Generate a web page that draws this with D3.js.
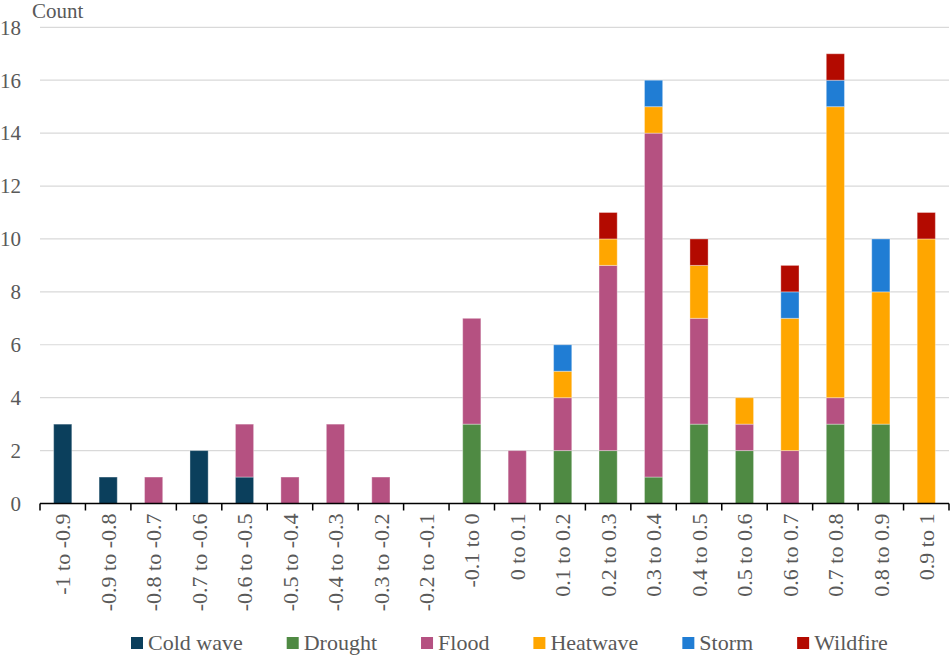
<!DOCTYPE html>
<html>
<head>
<meta charset="utf-8">
<script src="https://cdn.jsdelivr.net/npm/d3@7"></script>
<style>
  body { margin: 0; background: #fff; }
  text { font-family: "Liberation Serif", "Times New Roman", serif; fill: #595959; }
</style>
</head>
<body>
<div id="chart"></div>
<script>
const categories = ["-1 to -0.9", "-0.9 to -0.8", "-0.8 to -0.7", "-0.7 to -0.6", "-0.6 to -0.5",
  "-0.5 to -0.4", "-0.4 to -0.3", "-0.3 to -0.2", "-0.2 to -0.1", "-0.1 to 0",
  "0 to 0.1", "0.1 to 0.2", "0.2 to 0.3", "0.3 to 0.4", "0.4 to 0.5",
  "0.5 to 0.6", "0.6 to 0.7", "0.7 to 0.8", "0.8 to 0.9", "0.9 to 1"];

const seriesNames = ["Cold wave", "Drought", "Flood", "Heatwave", "Storm", "Wildfire"];
const seriesColors = ["#0b3f5c", "#4f8a43", "#b55181", "#ffa600", "#207dd4", "#b30a00"];

const coldWave = [3, 1, 0, 2, 1, 0, 0, 0, 0, 0, 0, 0, 0, 0, 0, 0, 0, 0, 0, 0];
const drought  = [0, 0, 0, 0, 0, 0, 0, 0, 0, 3, 0, 2, 2, 1, 3, 2, 0, 3, 3, 0];
const flood    = [0, 0, 1, 0, 2, 1, 3, 1, 0, 4, 2, 2, 7, 13, 4, 1, 2, 1, 0, 0];
const heatwave = [0, 0, 0, 0, 0, 0, 0, 0, 0, 0, 0, 1, 1, 1, 2, 1, 5, 11, 5, 10];
const storm    = [0, 0, 0, 0, 0, 0, 0, 0, 0, 0, 0, 1, 0, 1, 0, 0, 1, 1, 2, 0];
const wildfire = [0, 0, 0, 0, 0, 0, 0, 0, 0, 0, 0, 0, 1, 0, 1, 0, 1, 1, 0, 1];

const yTicks = [0, 2, 4, 6, 8, 10, 12, 14, 16, 18];

const seriesValues = [coldWave, drought, flood, heatwave, storm, wildfire];

const width = 950, height = 655;
const plotLeft = 40, plotRight = 949, plotTop = 27.3, plotBottom = 503.5;
const fontSize = 22;

const svg = d3.select("#chart").append("svg")
  .attr("width", width)
  .attr("height", height);

const table = categories.map((c, i) => {
  const row = { category: c };
  seriesNames.forEach((s, j) => { row[s] = seriesValues[j][i]; });
  return row;
});

const stacked = d3.stack().keys(seriesNames)(table);

const x = d3.scaleBand()
  .domain(categories)
  .range([plotLeft, plotRight])
  .paddingInner(0.6)
  .paddingOuter(0.3);

const y = d3.scaleLinear()
  .domain([0, 18])
  .range([plotBottom, plotTop]);

const color = d3.scaleOrdinal().domain(seriesNames).range(seriesColors);

// gridlines
svg.append("g")
  .selectAll("line")
  .data(yTicks.filter(d => d > 0))
  .enter()
  .append("line")
  .attr("x1", plotLeft)
  .attr("x2", plotRight)
  .attr("y1", d => y(d))
  .attr("y2", d => y(d))
  .attr("stroke", "#d9d9d9")
  .attr("stroke-width", 1.2);

// y labels
svg.append("g")
  .selectAll("text")
  .data(yTicks)
  .enter()
  .append("text")
  .attr("x", 21)
  .attr("y", d => y(d))
  .attr("dy", "0.35em")
  .attr("text-anchor", "end")
  .style("font-size", "21px")
  .text(d => d);

svg.append("text")
  .attr("x", 32)
  .attr("y", 18)
  .style("font-size", "21px")
  .text("Count");

// bars
svg.append("g")
  .selectAll("g")
  .data(stacked)
  .enter()
  .append("g")
  .attr("fill", d => color(d.key))
  .selectAll("rect")
  .data(d => d.filter(p => p[1] - p[0] > 0))
  .enter()
  .append("rect")
  .attr("x", d => x(d.data.category))
  .attr("width", x.bandwidth())
  .attr("y", d => y(d[1]))
  .attr("height", d => y(d[0]) - y(d[1]))
  .attr("stroke", "#ffffff")
  .attr("stroke-opacity", 0.35)
  .attr("stroke-width", 1);

// x axis
const axis = svg.append("g");
axis.append("line")
  .attr("x1", plotLeft)
  .attr("x2", plotRight)
  .attr("y1", plotBottom)
  .attr("y2", plotBottom)
  .attr("stroke", "#000")
  .attr("stroke-width", 1.5);

axis.selectAll("line.tick")
  .data(d3.range(categories.length + 1))
  .enter()
  .append("line")
  .attr("class", "tick")
  .attr("x1", i => plotLeft + i * x.step())
  .attr("x2", i => plotLeft + i * x.step())
  .attr("y1", plotBottom)
  .attr("y2", plotBottom + 7)
  .attr("stroke", "#000")
  .attr("stroke-width", 1.5);

axis.selectAll("text")
  .data(categories)
  .enter()
  .append("text")
  .attr("transform", d => `translate(${x(d) + x.bandwidth() / 2},${plotBottom + 10}) rotate(-90)`)
  .attr("text-anchor", "end")
  .attr("dy", "0.35em")
  .style("font-size", fontSize + "px")
  .text(d => d);

// legend
const legend = svg.append("g");
let lx = 131;
const legendY = 642;
seriesNames.forEach((s, i) => {
  legend.append("rect")
    .attr("x", lx)
    .attr("y", legendY - 5)
    .attr("width", 12)
    .attr("height", 12)
    .attr("fill", seriesColors[i]);
  const t = legend.append("text")
    .attr("x", lx + 17)
    .attr("y", legendY)
    .attr("dy", "0.35em")
    .style("font-size", fontSize + "px")
    .text(s);
  lx += 17 + t.node().getComputedTextLength() + 44;
});
</script>
</body>
</html>
